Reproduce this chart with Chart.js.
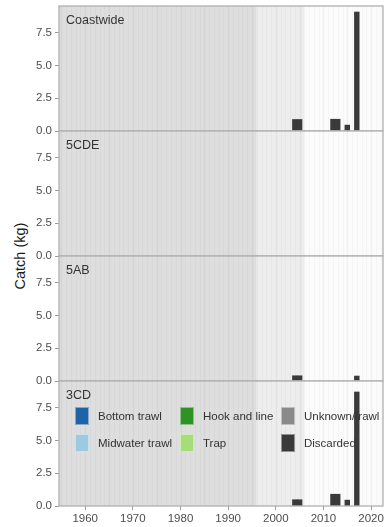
<!DOCTYPE html>
<html><head><meta charset="utf-8">
<script src="https://cdn.jsdelivr.net/npm/chart.js@4/dist/chart.umd.min.js"></script>
<style>
html,body{margin:0;padding:0;background:#fff;}
body{width:385px;height:527px;overflow:hidden;position:relative;font-family:"Liberation Sans",Arial,sans-serif;}
.p{position:absolute;left:0;width:385px;}
#ytitle{position:absolute;left:20px;top:256px;transform:translate(-50%,-50%) rotate(-90deg);font-size:14.5px;color:#1a1a1a;white-space:nowrap;}
</style></head><body>
<div id="ytitle">Catch (kg)</div>
<div class="p" style="top:-2px"><canvas id="c0" width="385" height="141"></canvas></div>
<div class="p" style="top:123px"><canvas id="c1" width="385" height="141"></canvas></div>
<div class="p" style="top:248px"><canvas id="c2" width="385" height="141"></canvas></div>
<div class="p" style="top:373px"><canvas id="c3" width="385" height="154"></canvas></div>
<script>
// ---- data ----
const areas = ['Coastwide', '5CDE', '5AB', '3CD'];
const years = [2004, 2005, 2012, 2013, 2015, 2017];
const discardedCoastwide = [0.88, 0.88, 0.9, 0.9, 0.45, 9.1];
const discarded5CDE      = [0, 0, 0, 0, 0, 0];
const discarded5AB       = [0.4, 0.4, 0, 0, 0, 0.38];
const discarded3CD       = [0.48, 0.48, 0.9, 0.9, 0.45, 8.72];
const gears = ['Bottom trawl', 'Hook and line', 'Unknown/trawl', 'Midwater trawl', 'Trap', 'Discarded'];
const gearColors = ['#1f63a6', '#2e9226', '#8a8a8a', '#9ecae1', '#a6dc7a', '#3a3a3a'];
const xTicks = [1960, 1970, 1980, 1990, 2000, 2010, 2020];
const yTicks = [0, 2.5, 5, 7.5];
const xRange = [1954.5, 2022.5];
const yMax = 9.56;
const eraBreaks = [1996, 2006];

const discardedByArea = [discardedCoastwide, discarded5CDE, discarded5AB, discarded3CD];

const FONT = '"Liberation Sans", Arial, sans-serif';

const panelPlugin = {
  id: 'panel',
  beforeDatasetsDraw(chart) {
    const {ctx, chartArea: a, scales: {x}} = chart;
    ctx.save();
    const b0 = x.getPixelForValue(eraBreaks[0]);
    const b1 = x.getPixelForValue(eraBreaks[1]);
    ctx.fillStyle = '#dedede'; ctx.fillRect(a.left, a.top, b0 - a.left, a.bottom - a.top);
    ctx.fillStyle = '#ededed'; ctx.fillRect(b0, a.top, b1 - b0, a.bottom - a.top);
    ctx.fillStyle = '#fbfbfb'; ctx.fillRect(b1, a.top, a.right - b1, a.bottom - a.top);
    // faint yearly stripes
    for (let yr = Math.ceil(xRange[0]); yr <= xRange[1]; yr++) {
      const px = Math.round(x.getPixelForValue(yr)) + 0.5;
      ctx.strokeStyle = yr % 5 === 0 ? 'rgba(0,0,0,0.045)' : 'rgba(0,0,0,0.022)';
      ctx.lineWidth = yr % 5 === 0 ? 1.5 : 1;
      ctx.beginPath(); ctx.moveTo(px, a.top); ctx.lineTo(px, a.bottom); ctx.stroke();
    }
    // panel label
    ctx.fillStyle = '#333333';
    ctx.font = '12.5px ' + FONT;
    ctx.textBaseline = 'middle';
    ctx.textAlign = 'left';
    ctx.fillText(chart.options.plugins.panel.label, a.left + 7, a.top + 15);
    // legend (bottom panel only)
    if (chart.options.plugins.panel.legend) {
      const colX = [16, 121, 222];
      const rowY = [26, 53];
      ctx.font = '11.5px ' + FONT;
      gears.forEach((g, i) => {
        const c = i % 3, r = Math.floor(i / 3);
        const sx = a.left + colX[c], sy = a.top + rowY[r];
        ctx.fillStyle = gearColors[i];
        ctx.fillRect(sx, sy, 14, 18);
        ctx.strokeStyle = 'rgba(255,255,255,0.45)';
        ctx.lineWidth = 1;
        ctx.strokeRect(sx + 0.5, sy + 0.5, 13, 17);
        ctx.fillStyle = '#333333';
        ctx.fillText(g, sx + 23, sy + 9.5);
      });
    }
    ctx.restore();
  },
  afterDatasetsDraw(chart) {
    const {ctx, chartArea: a} = chart;
    ctx.save();
    ctx.strokeStyle = '#b0b0b0';
    ctx.lineWidth = 1.3;
    ctx.strokeRect(a.left, a.top, a.right - a.left, a.bottom - a.top);
    ctx.restore();
  }
};

function makeChart(idx) {
  const isLast = idx === areas.length - 1;
  const datasets = gears.map((g, gi) => ({
    label: g,
    backgroundColor: gearColors[gi],
    borderWidth: 0,
    barPercentage: 1,
    categoryPercentage: 1,
    data: years.map((yr, k) => ({x: yr, y: g === 'Discarded' ? (discardedByArea[idx][k] || null) : null}))
  }));
  return new Chart(document.getElementById('c' + idx), {
    type: 'bar',
    data: {datasets},
    plugins: [panelPlugin],
    options: {
      responsive: false,
      devicePixelRatio: 1,
      animation: false,
      events: [],
      layout: {padding: {top: 8, bottom: isLast ? 0 : 8, left: 0, right: 2}},
      plugins: {
        legend: {display: false},
        tooltip: {enabled: false},
        panel: {label: areas[idx], legend: isLast}
      },
      scales: {
        x: {
          type: 'linear',
          stacked: true,
          min: xRange[0], max: xRange[1],
          offset: false,
          display: isLast,
          grid: {drawOnChartArea: false, drawTicks: true, tickLength: 4, color: '#9a9a9a', offset: false},
          border: {display: false},
          ticks: {color: '#4d4d4d', font: {family: FONT, size: 11.5}, padding: 2, maxRotation: 0, autoSkip: false,
                  callback: v => String(v)},
          afterBuildTicks: s => { s.ticks = xTicks.map(v => ({value: v})); },
          afterFit: s => { s.height = isLast ? 21 : 0; s.paddingLeft = 0; s.paddingRight = 0; }
        },
        y: {
          stacked: true,
          min: 0, max: yMax,
          grid: {drawOnChartArea: false, drawTicks: true, tickLength: 4, color: '#9a9a9a'},
          border: {display: false},
          ticks: {color: '#4d4d4d', font: {family: FONT, size: 11.5}, padding: 3,
                  callback: v => Number(v).toFixed(1)},
          afterBuildTicks: s => { s.ticks = yTicks.map(v => ({value: v})); },
          afterFit: s => { s.width = 59; s.paddingTop = 0; s.paddingBottom = 0; }
        }
      }
    }
  });
}
areas.forEach((_, i) => makeChart(i));
</script>
</body></html>
